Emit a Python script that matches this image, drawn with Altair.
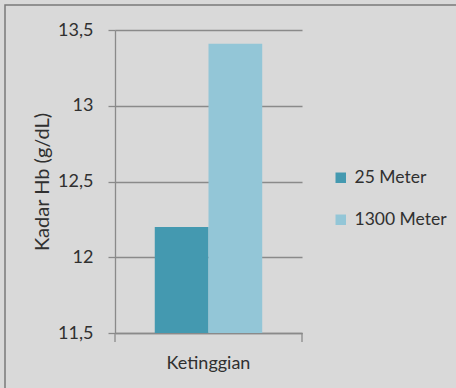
import altair as alt
import pandas as pd

categories = ["Ketinggian", "Ketinggian"]
series = ["25 Meter", "1300 Meter"]
values = [12.2, 13.41]
colors = ["#4499b0", "#93c6d7"]

df = pd.DataFrame({"cat": categories, "series": series, "value": values})

FONT = "Lato"
W, H = 187, 303
TXT = "#303030"

bars = alt.Chart(df).mark_bar(clip=True).encode(
    x=alt.X("cat:N", title=None,
            scale=alt.Scale(paddingInner=0, paddingOuter=0.37),
            axis=alt.Axis(labelAngle=0, domain=True, domainColor="#8a8a8a", ticks=False,
                          labelFont=FONT, labelFontSize=18, labelColor=TXT,
                          labelPadding=21, domainWidth=1.3)),
    xOffset=alt.XOffset("series:N", sort=series, scale=alt.Scale(paddingInner=0, paddingOuter=0)),
    y=alt.Y("value:Q", title="Kadar Hb (g/dL)",
            scale=alt.Scale(domain=[11.5, 13.5], nice=False, zero=False),
            axis=alt.Axis(values=[11.5, 12, 12.5, 13, 13.5],
                          labelExpr="datum.value % 1 == 0 ? format(datum.value, 'd') : replace(format(datum.value, '.1f'), '.', ',')",
                          grid=True, gridColor="#8a8a8a", gridWidth=1.3,
                          domain=True, domainColor="#8a8a8a", domainWidth=1.3,
                          tickColor="#8a8a8a", tickSize=7, tickWidth=1.3,
                          labelFont=FONT, labelFontSize=18, labelColor=TXT,
                          labelPadding=15,
                          titleFont=FONT, titleFontSize=20, titleFontWeight="normal",
                          titleColor=TXT, titlePadding=5)),
    color=alt.Color("series:N", sort=series,
                    scale=alt.Scale(domain=series, range=colors),
                    legend=alt.Legend(title=None, orient="none", legendX=217, legendY=139,
                                      symbolType="square", symbolSize=110,
                                      symbolStrokeWidth=0, labelFont=FONT, labelFontSize=17.5,
                                      labelColor=TXT, rowPadding=23, labelOffset=5)),
)

ticks_df = pd.DataFrame({"cat": ["Ketinggian"]})
end_ticks = alt.Chart(ticks_df).mark_rule(color="#8a8a8a", strokeWidth=1.3).encode(
    x=alt.value(0), y=alt.value(H), y2=alt.value(H + 9)
) + alt.Chart(ticks_df).mark_rule(color="#8a8a8a", strokeWidth=1.3).encode(
    x=alt.value(W), y=alt.value(H), y2=alt.value(H + 9)
)

border = alt.Chart(ticks_df).mark_rect(fill=None, stroke="#7a7a7a", strokeWidth=1.5, clip=False).encode(
    x=alt.value(-110), x2=alt.value(456 - 115 + 10), y=alt.value(-25), y2=alt.value(388 - 30 + 10)
)

chart = alt.layer(border, bars, end_ticks).properties(
    width=W, height=H,
    padding={"left": 115, "top": 30, "right": 456 - 115 - W, "bottom": 388 - 30 - H},
    autosize=alt.AutoSizeParams(type="none"),
    background="#d9d9d9",
).configure_view(stroke=None)

chart.save("out.html", embed_options={"renderer": "svg", "actions": False})
